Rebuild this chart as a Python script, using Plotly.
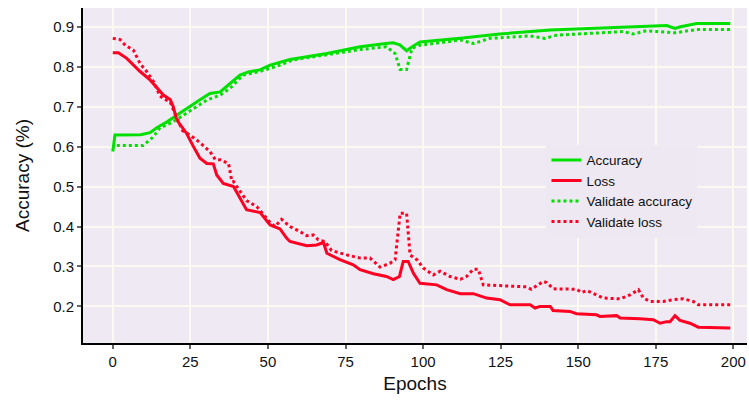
import plotly.graph_objects as go

# ---- data ----
acc_ep = [0, 0.7, 9, 12, 14.3, 17.5, 20.7, 24, 28, 31.3, 34.6, 37.8, 41, 43.7, 47.4, 50.7, 57.1, 69,
          79.7, 88, 90.4, 92.5, 94.7, 96.5, 99, 112, 124.7, 141, 164.5, 176.4, 178.5, 181.2, 183, 188.2, 199]
acc = [0.588, 0.629, 0.630, 0.635, 0.648, 0.662, 0.679, 0.697, 0.717, 0.733, 0.737, 0.758, 0.779, 0.787,
       0.792, 0.804, 0.818, 0.833, 0.85, 0.858, 0.86, 0.855, 0.84, 0.85, 0.862, 0.871, 0.882, 0.892, 0.9,
       0.904, 0.903, 0.896, 0.900, 0.908, 0.908]

vacc_ep = [1.3, 9.8, 13, 15.2, 19.4, 23.8, 30.4, 34.6, 37.8, 42, 47.4, 53.9, 58, 69, 79.7, 88.2, 91, 92.6,
           94.7, 96.4, 99, 105.5, 112, 116.2, 121.6, 134.5, 139.3, 143, 157, 164.5, 167.7, 172, 181.2, 188.2, 199]
vacc = [0.603, 0.603, 0.624, 0.647, 0.662, 0.684, 0.717, 0.729, 0.746, 0.779, 0.788, 0.804, 0.817, 0.83,
        0.843, 0.85, 0.833, 0.793, 0.793, 0.846, 0.854, 0.86, 0.867, 0.858, 0.871, 0.877, 0.871, 0.879, 0.885,
        0.888, 0.882, 0.89, 0.885, 0.893, 0.893]

loss_ep = [0, 1.8, 4.5, 8.8, 12, 14.1, 16.3, 18.5, 19.5, 20.6, 23.8, 26, 28.1, 30.3, 32.4, 33.5, 35.6, 38.9,
           41, 43.1, 47.5, 50.7, 53.9, 56, 57.1, 62.5, 65.7, 67.9, 69, 73.2, 77.5, 79.7, 84, 88.2, 90.4, 92.4,
           93.6, 95.2, 96.9, 99, 104.4, 107.6, 112, 116.2, 120.5, 124.8, 128, 134.5, 136.1, 137.7, 141, 141.9,
           147.3, 149.5, 155.9, 157, 162.4, 163.5, 169.9, 174.2, 176.4, 178.5, 179.6, 181.2, 182.8, 186, 188.7, 199]
loss = [0.835, 0.835, 0.821, 0.788, 0.767, 0.748, 0.729, 0.718, 0.70, 0.667, 0.633, 0.60, 0.571, 0.558,
        0.557, 0.529, 0.508, 0.50, 0.47, 0.442, 0.435, 0.404, 0.394, 0.371, 0.3625, 0.352, 0.354, 0.36, 0.333,
        0.317, 0.304, 0.292, 0.282, 0.275, 0.267, 0.275, 0.3125, 0.3125, 0.283, 0.258, 0.254, 0.242, 0.232,
        0.232, 0.221, 0.217, 0.204, 0.204, 0.196, 0.2, 0.2, 0.19, 0.1875, 0.182, 0.179, 0.175, 0.177, 0.171,
        0.169, 0.167, 0.158, 0.162, 0.162, 0.177, 0.165, 0.158, 0.148, 0.146]

vloss_ep = [0, 2.4, 4, 6.6, 8.8, 10.9, 13.1, 15.2, 16.3, 18.5, 20.6, 22.5, 24.9, 28.1, 31.3, 33, 34.6, 37.3,
            38.4, 38.9, 43.1, 46.4, 50.7, 52.3, 54.4, 57.1, 60.3, 62.5, 64.6, 66.2, 68.4, 70.5, 75.4, 79.7,
            82.9, 86.1, 89.3, 91, 92.6, 94.7, 95.8, 98, 100.1, 103.3, 105.5, 108.7, 112, 114, 116.2, 117.8,
            119.4, 124.8, 133.3, 134.9, 136.6, 138.7, 139.8, 142, 149.5, 151.1, 152.8, 155.9, 158.1, 163.5,
            166.7, 169.4, 171, 173.2, 177.4, 180.7, 183.9, 187.1, 188.7, 199]
vloss = [0.871, 0.868, 0.854, 0.842, 0.808, 0.788, 0.763, 0.727, 0.72, 0.712, 0.672, 0.64, 0.629, 0.61,
         0.588, 0.568, 0.567, 0.558, 0.5125, 0.5125, 0.465, 0.45, 0.41, 0.40, 0.418, 0.40, 0.3875, 0.377,
         0.379, 0.367, 0.3625, 0.34, 0.329, 0.321, 0.321, 0.2985, 0.308, 0.317, 0.433, 0.433, 0.329, 0.317,
         0.296, 0.279, 0.288, 0.275, 0.268, 0.275, 0.293, 0.293, 0.254, 0.252, 0.249, 0.243, 0.252, 0.2625,
         0.26, 0.244, 0.243, 0.235, 0.24, 0.229, 0.221, 0.219, 0.229, 0.242, 0.221, 0.2125, 0.2125, 0.217,
         0.219, 0.2125, 0.204, 0.204]

x_ticks = [0, 25, 50, 75, 100, 125, 150, 175, 200]
y_ticks = [0.2, 0.3, 0.4, 0.5, 0.6, 0.7, 0.8, 0.9]

GREEN = "#00e000"
RED = "#ff0022"
FONT = "Liberation Sans, Arial, sans-serif"

fig = go.Figure()
fig.add_trace(go.Scatter(x=acc_ep, y=acc, mode="lines", name="Accuracy",
                         line=dict(color=GREEN, width=3)))
fig.add_trace(go.Scatter(x=loss_ep, y=loss, mode="lines", name="Loss",
                         line=dict(color=RED, width=3)))
fig.add_trace(go.Scatter(x=vacc_ep, y=vacc, mode="lines", name="Validate accuracy",
                         line=dict(color=GREEN, width=3, dash="3px,3px")))
fig.add_trace(go.Scatter(x=vloss_ep, y=vloss, mode="lines", name="Validate loss",
                         line=dict(color=RED, width=3, dash="3px,3px")))

fig.update_layout(
    width=749, height=401,
    margin=dict(l=83, r=2, t=8, b=58),
    paper_bgcolor="white",
    plot_bgcolor="#efe9f3",
    font=dict(family=FONT, color="#111"),
    showlegend=True,
    legend=dict(x=0.698, y=0.592, xanchor="left", yanchor="top",
                bgcolor="#ede8f1", font=dict(size=13.5, family=FONT, color="#111"),
                tracegroupgap=0, itemwidth=30),
)
fig.update_xaxes(
    range=[-9.6, 204.4], tickvals=x_ticks, ticktext=[str(v) for v in x_ticks],
    showgrid=True, gridcolor="#fafaf0", gridwidth=2, zeroline=False,
    showline=True, linecolor="black", linewidth=2, mirror=False,
    ticks="outside", ticklen=4, tickwidth=2, tickcolor="#666",
    tickfont=dict(size=15, family=FONT, color="#111"),
    title=dict(text="Epochs", font=dict(size=19, family=FONT, color="#111"), standoff=8),
)
fig.update_yaxes(
    range=[0.1085, 0.947], tickvals=y_ticks, ticktext=[f"{v:.1f}" for v in y_ticks],
    showgrid=True, gridcolor="#fafaf0", gridwidth=2, zeroline=False,
    showline=True, linecolor="black", linewidth=2, mirror=False,
    ticks="outside", ticklen=4, tickwidth=2, tickcolor="#666",
    tickfont=dict(size=15, family=FONT, color="#111"),
    title=dict(text="Accuracy (%)", font=dict(size=19, family=FONT, color="#111"), standoff=18),
)

fig.write_html("out.html")
